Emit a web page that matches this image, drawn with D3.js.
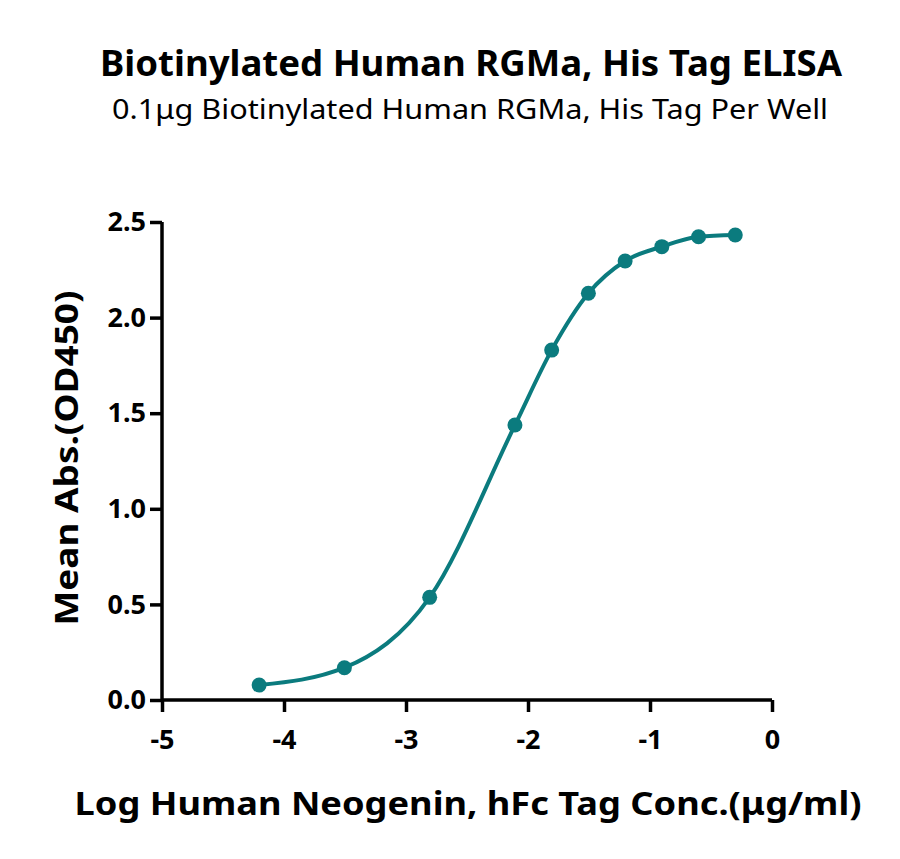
<!DOCTYPE html>
<html>
<head>
<meta charset="utf-8">
<script src="https://cdn.jsdelivr.net/npm/d3@7"></script>
<style>
  body { margin: 0; background: #fff; }
  svg { font-family: "Noto Sans", "Open Sans", sans-serif; }
</style>
</head>
<body>
<svg width="900" height="859"></svg>
<script>
  // values
  const logConc = [-4.204, -3.505, -2.806, -2.107, -1.806, -1.505, -1.204, -0.903, -0.602, -0.301];
  const meanAbs = [0.078, 0.169, 0.537, 1.438, 1.830, 2.127, 2.296, 2.371, 2.423, 2.432];
  const xTicks = [-5, -4, -3, -2, -1, 0];
  const yTicks = [0, 0.5, 1.0, 1.5, 2.0, 2.5];

  const teal = '#0b7b7e';
  const svg = d3.select('svg');
  const margin = {top: 222, right: 128, bottom: 159, left: 162};
  const width = 900 - margin.left - margin.right;
  const height = 859 - margin.top - margin.bottom;

  const x = d3.scaleLinear().domain([-5, 0]).range([0, width]);
  const y = d3.scaleLinear().domain([0, 2.5]).range([height, 0]);

  const g = svg.append('g')
    .attr('transform', 'translate(' + margin.left + ',' + margin.top + ')');

  // titles (source font is narrower, so stretch to the measured width)
  svg.append('text')
    .attr('x', 471).attr('y', 76)
    .attr('text-anchor', 'middle')
    .attr('font-size', 35).attr('font-weight', 'bold')
    .attr('textLength', 742).attr('lengthAdjust', 'spacingAndGlyphs')
    .text('Biotinylated Human RGMa, His Tag ELISA');
  svg.append('text')
    .attr('x', 470).attr('y', 119)
    .attr('text-anchor', 'middle')
    .attr('font-size', 28)
    .attr('textLength', 716).attr('lengthAdjust', 'spacingAndGlyphs')
    .text('0.1μg Biotinylated Human RGMa, His Tag Per Well');

  // axes
  const xAxis = g.append('g')
    .attr('transform', 'translate(0,' + height + ')')
    .call(d3.axisBottom(x).tickValues(xTicks).tickSize(12).tickPadding(18)
      .tickFormat(d => String(d)));
  const yAxis = g.append('g')
    .call(d3.axisLeft(y).tickValues(yTicks).tickSize(12).tickPadding(4).tickFormat(d3.format('.1f')));

  [xAxis, yAxis].forEach(a => {
    a.select('.domain').attr('stroke', '#000').attr('stroke-width', 3.5)
      .attr('d', a === xAxis ? 'M0,0H' + width : 'M0,' + height + 'V0');
    a.selectAll('.tick line').attr('stroke', '#000').attr('stroke-width', 3.5);
    a.selectAll('.tick text')
      .attr('fill', '#000')
      .attr('font-size', 27)
      .attr('font-weight', 'bold')
      .attr('font-family', '"Noto Sans", sans-serif');
  });

  // axis titles
  svg.append('text')
    .attr('x', 468).attr('y', 815)
    .attr('text-anchor', 'middle')
    .attr('font-size', 32).attr('font-weight', 'bold')
    .attr('textLength', 787).attr('lengthAdjust', 'spacingAndGlyphs')
    .text('Log Human Neogenin, hFc Tag Conc.(μg/ml)');
  svg.append('text')
    .attr('transform', 'translate(78,' + 458 + ') rotate(-90)')
    .attr('text-anchor', 'middle')
    .attr('font-size', 32).attr('font-weight', 'bold')
    .attr('textLength', 335).attr('lengthAdjust', 'spacingAndGlyphs')
    .text('Mean Abs.(OD450)');

  // curve and points
  const pts = logConc.map((v, i) => [v, meanAbs[i]]);
  const line = d3.line()
    .x(d => x(d[0]))
    .y(d => y(d[1]))
    .curve(d3.curveMonotoneX);

  g.append('path')
    .datum(pts)
    .attr('fill', 'none')
    .attr('stroke', teal)
    .attr('stroke-width', 4)
    .attr('d', line);

  g.selectAll('.dot')
    .data(pts)
    .enter()
    .append('circle')
      .attr('class', 'dot')
      .attr('cx', d => x(d[0]))
      .attr('cy', d => y(d[1]))
      .attr('r', 7.5)
      .attr('fill', teal);
</script>
</body>
</html>
